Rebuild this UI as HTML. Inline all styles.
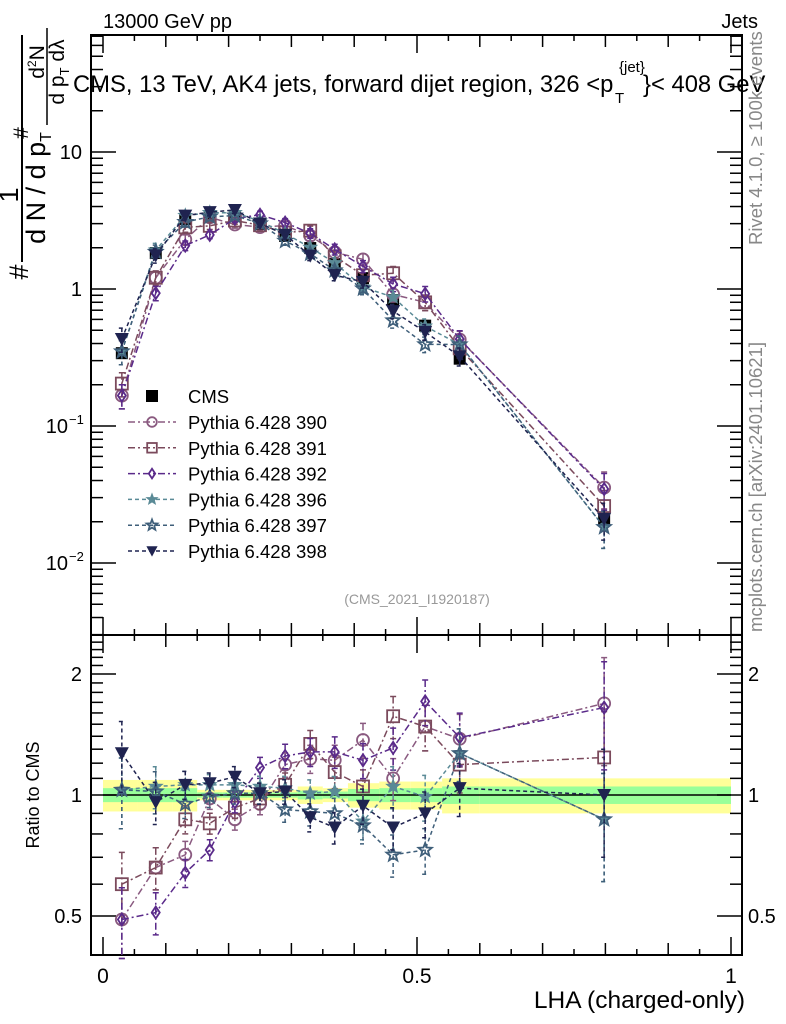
<!DOCTYPE html>
<html><head><meta charset="utf-8"><style>
html,body{margin:0;padding:0;background:#fff;}
svg{display:block;font-family:"Liberation Sans",sans-serif;}
</style></head><body>
<svg id="chart" width="786" height="1024" viewBox="0 0 786 1024" xmlns="http://www.w3.org/2000/svg">
<rect width="786" height="1024" fill="#fff"/>
<g id="plot"></g>
<text x="103" y="28" font-size="20">13000 GeV pp</text>
<text x="758" y="28" font-size="20" text-anchor="end">Jets</text>
<g font-size="23.8">
<text x="73" y="92">CMS, 13 TeV, AK4 jets, forward dijet region, 326 &lt;p</text>
<text x="619" y="72" font-size="15">{jet}</text>
<text x="615" y="103" font-size="15">T</text>
<text x="643" y="92">}&lt; 408 GeV</text>
</g>
<g font-size="27">
<text transform="translate(18,195) rotate(-90)" text-anchor="middle">1</text>
<line x1="22" y1="35" x2="22" y2="262" stroke="#000" stroke-width="2"/>
<text transform="translate(45,188) rotate(-90)" text-anchor="middle">d N / d p<tspan font-size="16" dy="6">T</tspan></text>
<text transform="translate(28,272) rotate(-90)" text-anchor="middle">#</text>
<text transform="translate(28,133) rotate(-90)" text-anchor="middle" font-size="21">#</text>
<text transform="translate(44,62) rotate(-90)" text-anchor="middle" font-size="21">d<tspan font-size="12" dy="-8">2</tspan><tspan dy="8">N</tspan></text>
<line x1="47" y1="28" x2="47" y2="125" stroke="#000" stroke-width="1.5"/>
<text transform="translate(64,72) rotate(-90)" text-anchor="middle" font-size="21">d p<tspan font-size="13" dy="5">T</tspan><tspan dy="-5">  dλ</tspan></text>
</g>
<text transform="translate(762,245) rotate(-90)" font-size="18.5" fill="#888">Rivet 4.1.0, ≥ 100k events</text>
<text transform="translate(762,632) rotate(-90)" font-size="18.5" fill="#888">mcplots.cern.ch [arXiv:2401.10621]</text>
<text x="417" y="604" font-size="14" fill="#999" text-anchor="middle">(CMS_2021_I1920187)</text>
<text transform="translate(39,795) rotate(-90)" font-size="18" text-anchor="middle">Ratio to CMS</text>
<text x="745" y="1008" font-size="24.5" text-anchor="end">LHA (charged-only)</text>
</svg>
<script>
var xCenters=[0.030,0.084,0.131,0.170,0.210,0.250,0.290,0.330,0.369,0.414,0.462,0.513,0.568,0.798];
var binEdges=[0,0.055,0.11,0.15,0.19,0.23,0.27,0.31,0.35,0.39,0.44,0.49,0.54,0.60,1.0];
var cmsValues=[0.34,1.83,3.24,3.4,3.4,2.98,2.44,1.99,1.52,1.2,0.83,0.54,0.31,0.021];
var bandTotal=[0.09,0.09,0.09,0.03,0.03,0.03,0.03,0.05,0.04,0.07,0.08,0.08,0.1,0.1];
var bandStat=[0.04,0.04,0.04,0.015,0.015,0.015,0.015,0.025,0.02,0.035,0.04,0.04,0.05,0.05];
var mcRelErr=[0.2,0.12,0.08,0.06,0.06,0.06,0.07,0.08,0.09,0.1,0.12,0.13,0.15,0.3];
var ratio390=[0.49,0.66,0.71,0.98,0.87,0.95,1.19,1.23,1.22,1.37,1.10,1.48,1.38,1.69];
var ratio391=[0.60,0.66,0.87,0.85,0.93,0.98,1.06,1.34,1.14,1.05,1.57,1.48,1.19,1.24];
var ratio392=[0.49,0.51,0.64,0.73,0.96,1.17,1.25,1.28,1.28,1.22,1.31,1.71,1.39,1.65];
var ratio396=[1.03,1.05,1.06,1.06,1.06,1.05,1.04,1.01,1.02,0.86,1.05,0.99,1.27,0.87];
var ratio397=[1.03,1.02,0.95,0.99,1.01,1.01,0.92,0.91,0.90,0.84,0.71,0.73,1.27,0.87];
var ratio398=[1.27,0.96,1.06,1.07,1.11,1.01,1.02,0.88,0.83,0.94,0.83,0.90,1.04,1.00];
var seriesNames=["Pythia 6.428 390","Pythia 6.428 391","Pythia 6.428 392","Pythia 6.428 396","Pythia 6.428 397","Pythia 6.428 398"];
var xTickLabels=["0","0.5","1"];
var ratioTickLabels=["2","1","0.5"];

var NS="http://www.w3.org/2000/svg";
var plotG=document.getElementById('plot');
var PL=91,PR=742,PT=35,MB=635,RB=955;
function xs(v){return 103+v*628;}
function ym(v){return 289-Math.log10(v)*137;}
function yr(v){return 795-Math.log10(v)*402;}
function mk(tag,attrs,parent){
  var e=document.createElementNS(NS,tag);
  for(var k in attrs){e.setAttribute(k,attrs[k]);}
  (parent||plotG).appendChild(e);
  return e;
}

for(var i=0;i<binEdges.length-1;i++){
  var x0=xs(binEdges[i]),x1=xs(binEdges[i+1]);
  var yb=mk('rect',{x:x0,y:yr(1+bandTotal[i]),width:x1-x0,height:yr(1-bandTotal[i])-yr(1+bandTotal[i]),fill:'#ffff99'});
  
  
  var gb=mk('rect',{x:x0,y:yr(1+bandStat[i]),width:x1-x0,height:yr(1-bandStat[i])-yr(1+bandStat[i]),fill:'#99ff99'});
  
  
}
var refLine=mk('line',{x1:xs(0),x2:xs(1),y1:yr(1),y2:yr(1),stroke:'#000','stroke-width':1.5});



var f1=mk('rect',{x:PL,y:PT,width:PR-PL,height:MB-PT,fill:'none',stroke:'#000','stroke-width':2});


var f2=mk('rect',{x:PL,y:MB,width:PR-PL,height:RB-MB,fill:'none',stroke:'#000','stroke-width':2});



var tickRows=[[RB,-1],[MB,-1],[MB,1],[PT,1]];
for(var k=-1;k<=21;k++){
  var xv=xs(k*0.05);
  if(xv<=PL||xv>=PR)continue;
  var len=(k%10===0)?18:(k%2===0?12:6);
  for(var r=0;r<tickRows.length;r++){
    var y0=tickRows[r][0],d=tickRows[r][1];
    var xt=mk('line',{x1:xv,x2:xv,y1:y0,y2:y0+d*len,stroke:'#000','stroke-width':1.5});
    
    
  }
}
for(var i=0;i<xTickLabels.length;i++){
  var xl=mk('text',{x:xs(parseFloat(xTickLabels[i])),y:983,'font-size':21,'text-anchor':'middle'});
  xl.textContent=xTickLabels[i];
  
  
}

for(var e=-3;e<=1;e++){
  for(var m=1;m<=9;m++){
    var v=m*Math.pow(10,e);
    var yy=ym(v);
    if(yy<PT||yy>MB)continue;
    var ln=m===1?25:12;
    var t1=mk('line',{x1:PL,x2:PL+ln,y1:yy,y2:yy,stroke:'#000','stroke-width':1.5});
    
    
    var t2=mk('line',{x1:PR,x2:PR-ln,y1:yy,y2:yy,stroke:'#000','stroke-width':1.5});
    
    
  }
}
var yLab=[[10,'10',''],[1,'1',''],[0.1,'10','−1'],[0.01,'10','−2']];
for(var i=0;i<yLab.length;i++){
  var lv=yLab[i][0],lb=yLab[i][1],lx=yLab[i][2];
  var yt=mk('text',{x:lx?68:82,y:ym(lv)+7,'font-size':20,'text-anchor':'end'});
  yt.textContent=lb;
  
  
  if(lx){
    var ye=mk('text',{x:69,y:ym(lv)-2,'font-size':13});
    ye.textContent=lx;
    
    
  }
}
var rTicks=[0.5,0.6,0.7,0.8,0.9,1,1.1,1.2,1.3,1.4,1.5,1.6,1.7,1.8,1.9,2,2.1,2.2,2.3,2.4];
for(var i=0;i<rTicks.length;i++){
  var rv=rTicks[i];
  var ry=yr(rv);
  var rl=(rv===0.5||rv===1||rv===2)?25:12;
  var r1=mk('line',{x1:PL,x2:PL+rl,y1:ry,y2:ry,stroke:'#000','stroke-width':1.5});
  
  
  var r2=mk('line',{x1:PR,x2:PR-rl,y1:ry,y2:ry,stroke:'#000','stroke-width':1.5});
  
  
}
for(var i=0;i<ratioTickLabels.length;i++){
  var s=ratioTickLabels[i];
  var ty=yr(parseFloat(s))+7;
  var a=mk('text',{x:82,y:ty,'font-size':20,'text-anchor':'end'});
  a.textContent=s;
  
  
  var b=mk('text',{x:748,y:ty,'font-size':20});
  b.textContent=s;
  
  
}

function marker(type,x,y,color,parent,sc){
  sc=sc||1;
  var rr=6*sc,mm;
  if(type==='circle'){mm=mk('circle',{cx:x,cy:y,r:rr,fill:'none',stroke:color,'stroke-width':1.8},parent);}
  else if(type==='square'){mm=mk('rect',{x:x-rr,y:y-rr,width:2*rr,height:2*rr,fill:'none',stroke:color,'stroke-width':1.8},parent);}
  else if(type==='fsquare'){mm=mk('rect',{x:x-6,y:y-6,width:12,height:12,fill:color},parent);}
  else if(type==='diamond'){mm=mk('polygon',{points:x+','+(y-rr)+' '+(x+4*sc)+','+y+' '+x+','+(y+rr)+' '+(x-4*sc)+','+y,fill:'none',stroke:color,'stroke-width':1.8},parent);}
  else if(type==='star'||type==='ostar'){
    var p=[];
    for(var q=0;q<10;q++){var an=-Math.PI/2+q*Math.PI/5;var rad=(q%2?3:7)*sc;p.push((x+rad*Math.cos(an)).toFixed(1)+','+(y+rad*Math.sin(an)).toFixed(1));}
    mm=mk('polygon',{points:p.join(' '),fill:type==='star'?color:'none',stroke:color,'stroke-width':type==='star'?1:1.8},parent);
  }
  else {mm=mk('polygon',{points:(x-7*sc)+','+(y-6*sc)+' '+(x+7*sc)+','+(y-6*sc)+' '+x+','+(y+7*sc),fill:color},parent);}
  return mm;
}
var seriesRatios=[ratio390,ratio391,ratio392,ratio396,ratio397,ratio398];
var seriesColors=['#8a5a80','#7b4a5c','#5a2a8a','#5a8a96','#3f5f7a','#1f2350'];
var seriesMarkers=['circle','square','diamond','star','ostar','tri'];
var seriesDash=['7,3,2,3','7,3,2,3','7,3,2,3','4,3','4,3','4,3'];

for(var i=0;i<cmsValues.length;i++){
  var cp=marker('fsquare',xs(xCenters[i]),ym(cmsValues[i]),'#000');
  
  
}

function drawSeries(s){
  var rat=seriesRatios[s],col=seriesColors[s];
  var sg=mk('g',{});
  
  
  for(var panel=0;panel<2;panel++){
    var yf=panel===0?ym:yr;
    var vals=[];
    for(var i=0;i<rat.length;i++){vals.push(panel===0?cmsValues[i]*rat[i]:rat[i]);}
    var pts=[];
    for(var i=0;i<vals.length;i++){pts.push(xs(xCenters[i])+','+yf(vals[i]));}
    var pl=mk('polyline',{points:pts.join(' '),fill:'none',stroke:col,'stroke-width':1.5,'stroke-dasharray':seriesDash[s]},sg);
    
    
    for(var i=0;i<vals.length;i++){
      var px=xs(xCenters[i]),py=yf(vals[i]);
      var ya=yf(vals[i]*(1+mcRelErr[i])),yb2=yf(vals[i]*(1-mcRelErr[i]));
      var eb=mk('path',{d:'M'+px+','+ya+'V'+yb2+'M'+(px-3)+','+ya+'h6M'+(px-3)+','+yb2+'h6',stroke:col,'stroke-width':1.5,'stroke-dasharray':seriesDash[s],fill:'none'},sg);
      
      
      var sp=marker(seriesMarkers[s],px,py,col,sg);
      
      
    }
  }
}
for(var s=0;s<seriesRatios.length;s++){drawSeries(s);}

var lg=mk('g',{});


var lmk=marker('fsquare',152,396,'#000',lg);


var ltx=mk('text',{x:188,y:403,'font-size':18.5},lg);
ltx.textContent='CMS';


for(var s=0;s<seriesNames.length;s++){
  var ly=422+s*25.8;
  var ll=mk('line',{x1:128,x2:176,y1:ly,y2:ly,stroke:seriesColors[s],'stroke-width':1.5,'stroke-dasharray':seriesDash[s]},lg);
  
  
  var lm2=marker(seriesMarkers[s],152,ly,seriesColors[s],lg,0.8);
  
  
  var lt2=mk('text',{x:188,y:ly+7,'font-size':18.5},lg);
  lt2.textContent=seriesNames[s];
  
  
}
</script>
</body></html>
